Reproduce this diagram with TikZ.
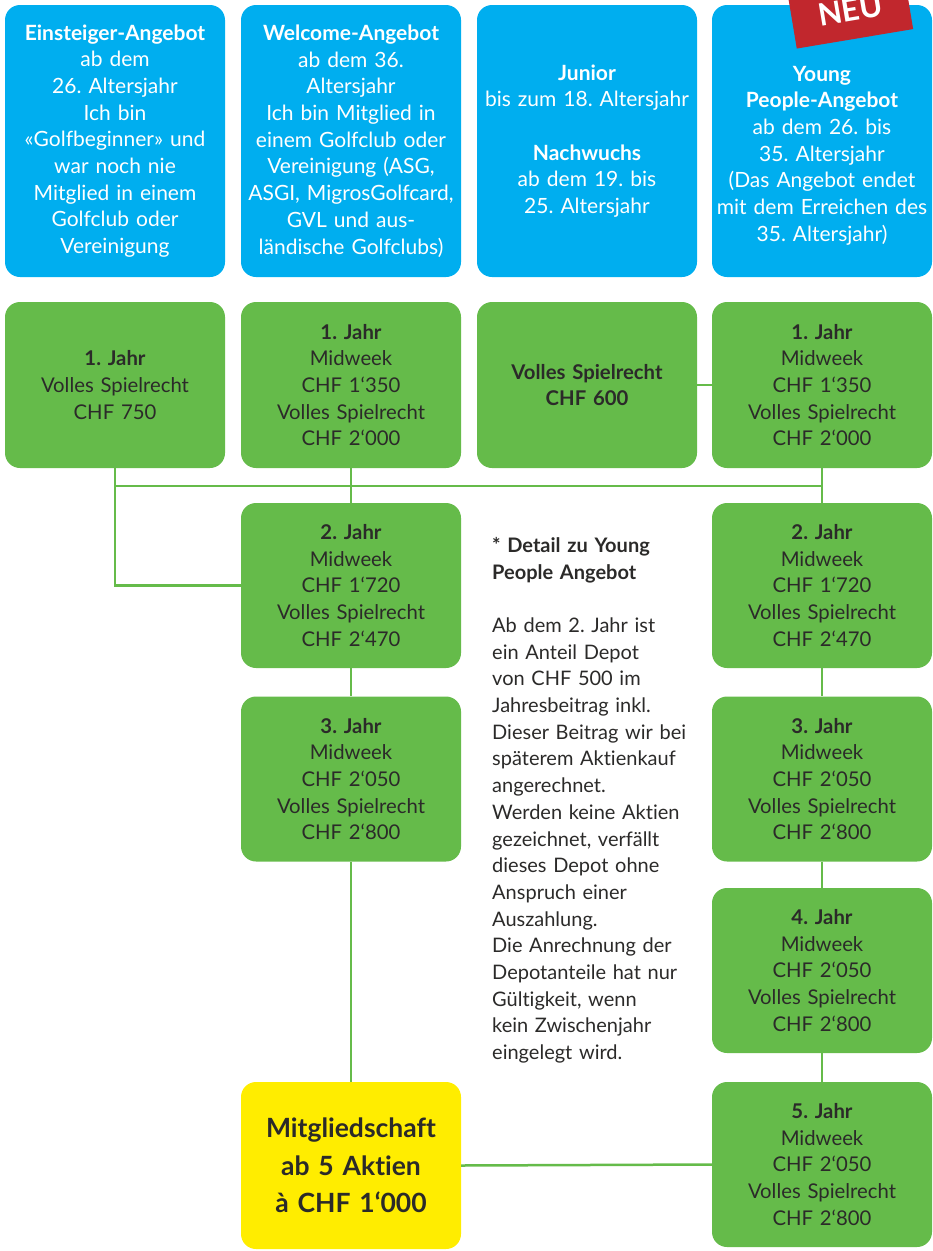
\documentclass[tikz,border=0pt]{standalone}
\usepackage{fontspec}
\setmainfont{Lato}[Ligatures=NoCommon]
\frenchspacing
\definecolor{cblue}{HTML}{00AEEF}
\definecolor{cgreen}{HTML}{65BB4A}
\definecolor{cyellow}{HTML}{FFED00}
\definecolor{cred}{HTML}{C1272D}
\definecolor{ctext}{HTML}{2B2A29}
\tikzset{
  box/.style={rounded corners=15pt, minimum width=220pt, text width=218pt, inner xsep=1pt, inner ysep=0pt,
    align=center, font=\fontsize{20.3pt}{26.7pt}\selectfont},
  bluebox/.style={box, fill=cblue, text=white, minimum height=272pt, font=\fontsize{21pt}{26.7pt}\selectfont},
  greenbox/.style={box, fill=cgreen, text=ctext, minimum height=165pt},
  yellowbox/.style={box, fill=cyellow, text=ctext, minimum height=167pt,
    font=\fontsize{26.5pt}{37.5pt}\selectfont\bfseries},
  link/.style={draw=cgreen, line width=2.5pt},
}
\begin{document}
\begin{tikzpicture}[x=1pt,y=-1pt]
\useasboundingbox (0,0) rectangle (933,1251);

% top blue boxes
\node[bluebox] (b1) at (115,141) {{\bfseries Einsteiger-Angebot}\\ab dem\\26. Altersjahr\\Ich bin\\«Golfbeginner» und\\war noch nie\\Mitglied in einem\\Golfclub oder\\Vereinigung};
\node[bluebox] (b2) at (351,141) {{\bfseries Welcome-Angebot}\\ab dem 36.\\Altersjahr\\Ich bin Mitglied in\\einem Golfclub oder\\Vereinigung (ASG,\\ASGI, MigrosGolfcard,\\GVL und aus-\\ländische Golfclubs)};
\node[bluebox] (b3) at (587,141) {{\bfseries Junior}\\bis zum 18. Altersjahr\\[26.7pt]{\bfseries Nachwuchs}\\ab dem 19. bis\\25. Altersjahr};
\node[bluebox] (b4) at (822,141) {};
\node[text=white, text width=218pt, align=center, inner sep=0pt, font=\fontsize{21pt}{26.7pt}\selectfont] (b4t) at (822,155.5)
  {{\bfseries Young\\People-Angebot}\\ab dem 26. bis\\35. Altersjahr\\(Das Angebot endet\\mit dem Erreichen des\\35. Altersjahr)};
\node[fill=cred, text=white, rotate=9.5, anchor=south, minimum width=118pt, inner xsep=0pt, inner ysep=0pt,
  text height=36pt, text depth=18pt, font=\fontsize{31pt}{31pt}\selectfont\bfseries] (neu) at (855,39) {NEU\hspace{6pt}};

% row 1 green
\node[greenbox, minimum height=166pt] (g11) at (115,385) {{\bfseries 1. Jahr}\\Volles Spielrecht\\CHF 750};
\node[greenbox, minimum height=166pt] (g21) at (351,385) {{\bfseries 1. Jahr}\\Midweek\\CHF 1‘350\\Volles Spielrecht\\CHF 2‘000};
\node[greenbox, minimum height=166pt] (g31) at (587,385) {{\bfseries Volles Spielrecht\\CHF 600}};
\node[greenbox, minimum height=166pt] (g41) at (822,385) {{\bfseries 1. Jahr}\\Midweek\\CHF 1‘350\\Volles Spielrecht\\CHF 2‘000};

% column 2
\node[greenbox] (g22) at (351,585.5) {{\bfseries 2. Jahr}\\Midweek\\CHF 1‘720\\Volles Spielrecht\\CHF 2‘470};
\node[greenbox] (g23) at (351,779) {{\bfseries 3. Jahr}\\Midweek\\CHF 2‘050\\Volles Spielrecht\\CHF 2‘800};
\node[yellowbox] (gy) at (351,1165.5) {Mitgliedschaft\\ab 5 Aktien\\à CHF 1‘000};

% column 4
\node[greenbox] (g42) at (822,585.5) {{\bfseries 2. Jahr}\\Midweek\\CHF 1‘720\\Volles Spielrecht\\CHF 2‘470};
\node[greenbox] (g43) at (822,779) {{\bfseries 3. Jahr}\\Midweek\\CHF 2‘050\\Volles Spielrecht\\CHF 2‘800};
\node[greenbox] (g44) at (822,970.5) {{\bfseries 4. Jahr}\\Midweek\\CHF 2‘050\\Volles Spielrecht\\CHF 2‘800};
\node[greenbox] (g45) at (822,1164.5) {{\bfseries 5. Jahr}\\Midweek\\CHF 2‘050\\Volles Spielrecht\\CHF 2‘800};

% detail text
\node[anchor=north west, text=ctext, text width=215pt, align=left, inner sep=0pt,
  font=\fontsize{20pt}{26.7pt}\selectfont] (detail) at (492,537)
  {{\bfseries * Detail zu Young\\People Angebot}\\[26.7pt]Ab dem 2. Jahr ist\\ein Anteil Depot\\von CHF 500 im\\Jahresbeitrag inkl.\\Dieser Beitrag wir bei\\späterem Aktienkauf\\angerechnet.\\Werden keine Aktien\\gezeichnet, verfällt\\dieses Depot ohne\\Anspruch einer\\Auszahlung.\\Die Anrechnung der\\Depotanteile hat nur\\Gültigkeit, wenn\\kein Zwischenjahr\\eingelegt wird.};

% connectors
\coordinate (hl) at (0,486);
\draw[link] (g11.south) |- (g22.west);
\draw[link] (g11.south |- hl) -- (g41.south |- hl);
\draw[link] (g21) -- (g22);
\draw[link] (g31) -- (g41);
\draw[link] (g41) -- (g42);
\draw[link] (g22) -- (g23);
\draw[link] (g23) -- (gy);
\draw[link] (g42) -- (g43);
\draw[link] (g43) -- (g44);
\draw[link] (g44) -- (g45);
\draw[link] (gy.east) -- (g45.west);
\end{tikzpicture}
\end{document}
